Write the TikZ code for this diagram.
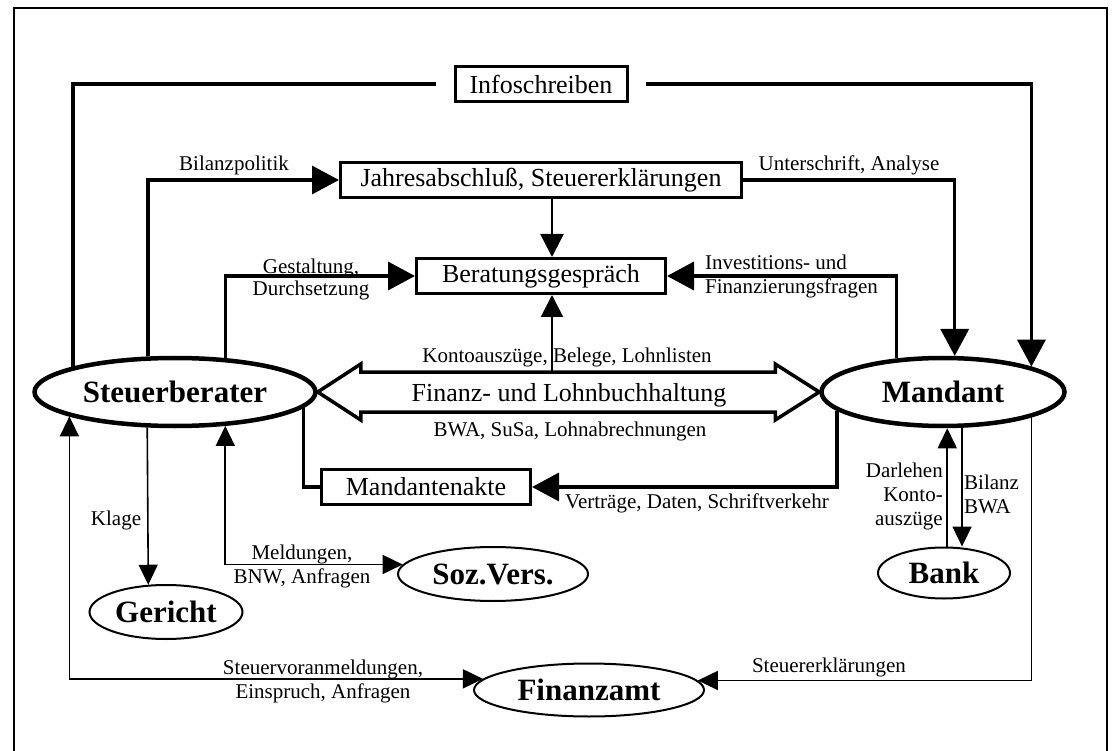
\documentclass[tikz,border=0pt]{standalone}
\usepackage{fontspec}
\setmainfont{Liberation Serif}
\usetikzlibrary{arrows.meta,shapes.geometric,calc}
\newcommand\labfont{\fontsize{21}{24}\selectfont}
\newcommand\boxfont{\fontsize{26}{30}\selectfont}
\newcommand\ovalfont{\fontsize{31}{36}\selectfont\bfseries}

\begin{document}
\begin{tikzpicture}[
		x=1pt, y=-1pt,
		box/.style={rectangle, draw, line width=3pt, minimum height=35pt, inner sep=0pt, font=\boxfont},
		oval/.style={ellipse, draw, line width=2pt, inner sep=0pt, font=\ovalfont},
		bigoval/.style={oval, line width=4.5pt, minimum height=68pt},
		lab/.style={font=\labfont, inner sep=0pt, align=center},
		conn/.style={line width=3.5pt},
		arrow/.style={conn, -{Triangle[length=27pt,width=28pt]}},
		midarrow/.style={line width=2.5pt, -{Triangle[length=23pt,width=23pt]}},
		thinarrow/.style={line width=1.6pt, -{Triangle[length=20pt,width=19pt]}},
		twoarrow/.style={line width=1.6pt, {Triangle[length=20pt,width=19pt]}-{Triangle[length=20pt,width=19pt]}}
	]
	\useasboundingbox (0,0) rectangle (1114,751);
	% Rahmen
	\draw[line width=1.5pt] (14,751) |- (1107,8) -- (1107,751);

	% Knoten
	\node[box, minimum width=172pt] (info) at (541,84) {Infoschreiben};
	\node[box, minimum width=401pt] (jahr) at (541,180) {Jahresabschluß, Steuererklärungen};
	\node[box, minimum width=249pt] (berat) at (541,276) {Beratungsgespräch};
	\node[box, minimum width=209pt] (akte) at (426,487) {Mandantenakte};

	\node[bigoval, minimum width=281pt] (stb) at (175,392) {Steuerberater};
	\node[bigoval, minimum width=243pt] (mand) at (943,392) {Mandant};

	\node[oval, minimum width=153pt, minimum height=54pt] (ger) at (166,612) {Gericht};
	\node[oval, minimum width=190pt, minimum height=54pt] (soz) at (493,574) {Soz.Vers.};
	\node[oval, minimum width=230pt, minimum height=53pt] (fin) at (589,690) {Finanzamt};
	\node[oval, minimum width=132pt, minimum height=51pt] (bank) at (944,573) {Bank};

	% Pfeile oben
	\draw[conn] ([xshift=-18pt]info.west) -| (stb.166.7);
	\draw[arrow] ([xshift=17pt]info.east) -| (mand.16);
	\draw[arrow] (stb.127.4) |- (jahr.west);
	\draw[arrow] (jahr.east) -| (mand.72.9);
	\draw[midarrow] ([xshift=11pt]jahr.south) -- ([xshift=11pt]berat.north);
	\draw[arrow] (stb.34.6) |- (berat.west);
	\draw[arrow] (mand.144) |- (berat.east);

	% Buchhaltung
	\draw[conn, line join=miter] (stb.east) -- ++(43,-28) -- ++(0,8) -- ($(mand.west)+(-44,-20)$) -- ++(0,-8)
		-- (mand.west) -- ++(-44,28) -- ++(0,-8) -- ($(stb.east)+(43,20)$) -- ++(0,8) -- cycle;
	\node[lab, font=\boxfont] (buch) at (569,395) {Finanz- und Lohnbuchhaltung};
	\coordinate (kto) at (552,373);
	\draw[line width=2pt, -{Triangle[length=22pt,width=22pt]}] (kto) -- (kto |- berat.south);

	% Mandantenakte
	\draw[conn] (stb.-7.3) |- (akte.west);
	\draw[arrow] (mand.190.9) |- (akte.east);

	% Pfeile unten
	\draw[thinarrow] (stb.232.6) -- (ger.123.5);
	\draw[twoarrow] (stb.-34) |- (soz.174.4);
	\draw[twoarrow] (stb.193.3) |- (fin.174.7);
	\draw[thinarrow] (mand.-16) |- (fin.5.3);
	\draw[thinarrow] (bank.83.5) -- (bank.83.5 |- mand.south);
	\draw[thinarrow] (mand.-62.9) -- (mand.-62.9 |- bank.north);

	% Beschriftungen
	\node[lab] (lbilanz) at (234,165) {Bilanzpolitik};
	\node[lab] (lunter) at (849,165) {Unterschrift, Analyse};
	\node[lab] (lgestalt) at (311,279) {Gestaltung,\\[-2pt]Durchsetzung};
	\node[lab, align=left, anchor=west] (linvest) at (705,276) {Investitions- und\\Finanzierungsfragen};
	\node[lab] (lkonto) at (567,357) {Kontoauszüge, Belege, Lohnlisten};
	\node[lab] (lbwa) at (570,431) {BWA, SuSa, Lohnabrechnungen};
	\node[lab] (lvertrag) at (697,503) {Verträge, Daten, Schriftverkehr};
	\node[lab] (lklage) at (116,520) {Klage};
	\node[lab] (lmeld) at (302,566) {Meldungen,\\BNW, Anfragen};
	\node[lab] (lsteuer) at (323,681) {Steuervoranmeldungen,\\Einspruch, Anfragen};
	\node[lab] (lerkl) at (829,667) {Steuererklärungen};
	\node[lab, align=right, anchor=east] (ldarl) at (943,496) {Darlehen\\Konto-\\auszüge};
	\node[lab, align=left, anchor=west] (lbil) at (964,494) {Bilanz\\BWA};
\end{tikzpicture}
\end{document}
